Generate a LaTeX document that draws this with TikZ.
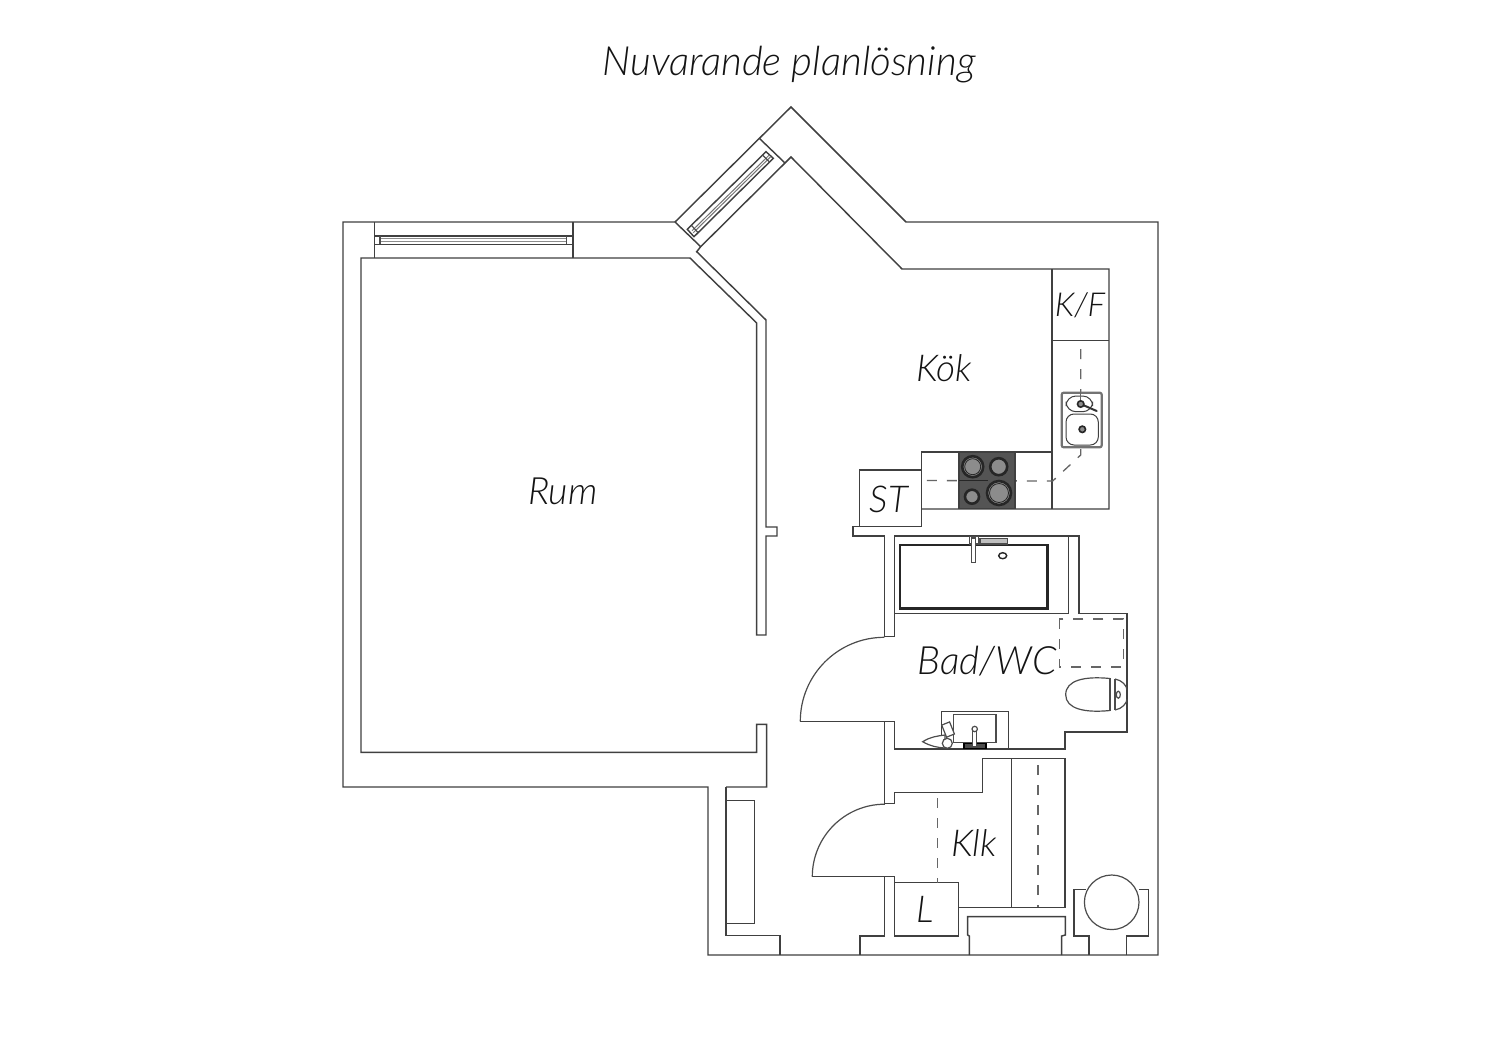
\documentclass[tikz,border=0pt]{standalone}
\usepackage{fontspec}
\setmainfont{Lato Light}
\begin{document}
\begin{tikzpicture}[x=0.5pt,y=-0.5pt,line join=miter,
  wall/.style={draw=black!75,line width=0.72pt},
  thin wall/.style={draw=black!70,line width=0.6pt},
  dash line/.style={draw=black!60,line width=0.65pt,dash pattern=on 5pt off 5pt},
  room/.style={text=black!92,inner sep=0pt},
  burner/.style={draw=black!85,line width=1.3pt,fill=black!45},
  fixture/.style={draw=black!75,line width=0.5pt,fill=white}]
\useasboundingbox (0,0) rectangle (1500,1060);
\fill[white] (0,0) rectangle (1500,1060);
% outer wall
\draw[wall] (708,787) -- (343,787) -- (343,222) -- (675,222) -- (791,107) -- (906,222) -- (1158,222) -- (1158,955) -- (708,955) -- cycle;
% room inner wall
\draw[wall] (726,787) -- (766.7,787) -- (766.7,724.3) -- (756.7,724.3) -- (756.7,752.3) -- (361,752.3) -- (361,258) -- (690,258) -- (756.7,323) -- (756.7,635) -- (766,635) -- (766,536) -- (777,536) -- (777,527) -- (766,527) -- (766,320) -- (696.7,251.7) -- (700.7,246.7) -- (785,163) -- (791,157) -- (902,269) -- (1109,269) -- (1109,509) -- (921.7,509);
% window, straight
\draw[wall] (374.5,222) -- (374.5,258) (573,222) -- (573,258);
\draw[wall] (374.5,236) rectangle (573,244.3);
\draw[draw=black!45,line width=0.5pt] (380,238.5) -- (566.7,238.5) (380,241.8) -- (566.7,241.8);
\draw[thin wall] (380,236) -- (380,244.3) (566.7,236) -- (566.7,244.3);
% window, diagonal
\draw[wall] (675,222) -- (700.7,246.7) (759.3,138.3) -- (785,163);
\draw[wall] (687.3,229.3) -- (766,151.7) -- (773.3,158.3) -- (694,236.7) -- cycle;
\draw[draw=black!55,line width=0.5pt] (692,230.7) -- (769.3,155) (693.3,232.7) -- (770.7,156.7);
\draw[thin wall] (691.5,225.5) -- (698,232.5) (762.5,155) -- (769.5,162);
% kitchen
\draw[wall] (1052,269) -- (1052,509) (1052,340.5) -- (1109,340.5);
\draw[wall] (1052,452) -- (921.7,452) -- (921.7,526.7) -- (853,526.7) -- (853,536) -- (884.3,536) -- (884.3,636.7) -- (894.3,636.7) -- (894.3,536) -- (1079,536) -- (1079,613.7) -- (1127,613.7) -- (1127,732) -- (1065,732) -- (1065,749) -- (894.3,749) -- (894.3,721.3) -- (800.3,721.3);
\draw[wall] (859.5,526.7) -- (859.5,470) -- (921.7,470);
\draw[dash line] (1080.7,349) -- (1080.7,455) -- (1052.7,481) -- (922,480.5);
% hob
\fill[black!67] (959,452) rectangle (1015,508.5);
\draw[wall] (959,452) rectangle (1015,508.5);
\draw[burner] (972.7,466.7) circle (10.5);
\draw[burner] (998.7,466.7) circle (8.5);
\draw[burner] (972,496.7) circle (7);
\draw[burner] (999,493) circle (12);
\draw[black!85,line width=0.4pt] (972.7,466.7) circle (8) (999,493) circle (9.5);
\draw[black!85,line width=0.5pt] (959,480.5) -- (988,480.5);
% kitchen sink
\draw[draw=black!55,line width=1.1pt,fill=white,rounded corners=1pt] (1061.7,392.7) rectangle (1101.7,447.3);
\draw[fixture,rounded corners=5pt] (1066,396) rectangle (1092.7,411.7);
\draw[fixture,rounded corners=4pt] (1066,414) rectangle (1098.3,445);
\draw[dash line] (1080.7,392) -- (1080.7,404);
\draw[black!80,line width=1pt,line cap=round] (1080.7,404) -- (1096.7,411);
\draw[draw=black!85,line width=0.8pt,fill=black!45] (1080.7,404) circle (3.2) (1082.3,429.3) circle (3.2);
% bath
\draw[draw=black!85,line width=1.3pt] (900,545) rectangle (1047.3,608.7);
\draw[thin wall] (969.3,536.7) rectangle (978.7,544);
\draw[thin wall,fill=white] (971.7,538) rectangle (975.7,562.7);
\draw[thin wall,fill=black!25] (980,538.3) rectangle (1007.3,544);
\draw[draw=black!85,line width=0.7pt] (1002.7,555.7) ellipse (4 and 3);
% bathroom walls
\draw[wall] (1068.3,536) -- (1068.3,613.7) -- (894.3,613.7);
\draw[wall] (884.3,721.3) -- (884.3,803.3) -- (894.3,803.3) -- (894.3,792.3) -- (982.3,792.3) -- (982.3,758.7) -- (1065,758.7) -- (1065,907.3) -- (958.7,907.3);
\draw[thin wall] (800.3,721.3) arc[start angle=180,end angle=270,radius=84];
\draw[dash line] (1059.3,619) rectangle (1123.3,667);
% toilet
\draw[thin wall] (1110,678.5) .. controls (1085,676) and (1065.7,680) .. (1065.7,694.7) .. controls (1065.7,709) and (1085,713) .. (1110,710.5);
\draw[thin wall] (1110,678) -- (1110,711) (1115,679) -- (1115,710);
\draw[thin wall] (1115,679) .. controls (1122,680) and (1127,686) .. (1127,690) (1115,710) .. controls (1122,709) and (1127,703) .. (1127,699);
\draw[thin wall] (1118.3,694.7) ellipse (2 and 3.5);
% basin
\draw[wall] (941.7,749) -- (941.7,711.7) -- (1008.3,711.7) -- (1008.3,749);
\draw[thin wall] (953.3,714.7) rectangle (996,742.3);
\draw[draw=black,line width=0.8pt,fill=black!70] (964,743.5) rectangle (986,748.5);
\draw[thin wall,fill=white] (972.7,730) rectangle (976.7,747);
\draw[thin wall,fill=white] (974.7,729) circle (2.7);
% basin accessory
\draw[thin wall,fill=white] (922.7,741.7) .. controls (930,737) and (937,736) .. (945,735) -- (945,748) .. controls (937,747.5) and (930,746) .. (922.7,741.7) -- cycle;
\draw[thin wall,fill=white,rotate around={22:(948.3,730)}] (944,723) rectangle (952.5,736);
\draw[thin wall,fill=white] (947.3,743.3) circle (5);
% wc, closet
\draw[wall] (884.3,876.7) -- (884.3,936) -- (860,936) -- (860,955);
\draw[wall] (812.3,876.7) -- (894.3,876.7) -- (894.3,936) -- (958.7,936) -- (958.7,882.7) -- (894.3,882.7);
\draw[thin wall] (812.3,876.7) arc[start angle=180,end angle=270,radius=72.5];
\draw[wall] (1011.7,758.7) -- (1011.7,907.3);
\draw[dash line] (1038,765) -- (1038,907);
\draw[dash line] (937.7,798) -- (937.7,882.7);
% entrance wall
\draw[wall] (726,787) -- (726,935.7) -- (780,935.7) -- (780,955);
\draw[wall] (726,800.3) -- (754.7,800.3) -- (754.7,923.7) -- (726,923.7);
% cabinet
\draw[wall] (969.3,955) -- (969.3,936) -- (967.7,935) -- (967.7,916.7) -- (1065.3,916.7) -- (1065.3,935) -- (1061.7,936) -- (1061.7,955);
% boiler
\draw[wall] (1089,955) -- (1089,936) -- (1074,936) -- (1074,889.3) -- (1086,889.3);
\draw[wall] (1126.7,955) -- (1126.7,936) -- (1148.7,936) -- (1148.7,889.3) -- (1138.7,889.3);
\draw[thin wall,fill=white] (1111.7,902.3) circle (27.3);
% labels
\node[room,font=\itshape\fontsize{20.15}{22}\selectfont] (title) at (789,65) {Nuvarande planlösning};
\node[room,font=\itshape\fontsize{18.8}{20}\selectfont] (rum) at (563,491) {Rum};
\node[room,font=\itshape\fontsize{18.5}{20}\selectfont] (kok) at (944,368) {Kök};
\node[room,font=\itshape\fontsize{16.5}{20}\selectfont] (kf) at (1080,305) {K/F};
\node[room,font=\itshape\fontsize{18.5}{20}\selectfont] (st) at (889,499) {ST};
\node[room,font=\itshape\fontsize{19.5}{20}\selectfont] (bad) at (987,661) {Bad/WC};
\node[room,font=\itshape\fontsize{18.5}{20}\selectfont] (klk) at (974,843) {Klk};
\node[room,font=\itshape\fontsize{18.5}{20}\selectfont] (l) at (925,909) {L};
\end{tikzpicture}
\end{document}
